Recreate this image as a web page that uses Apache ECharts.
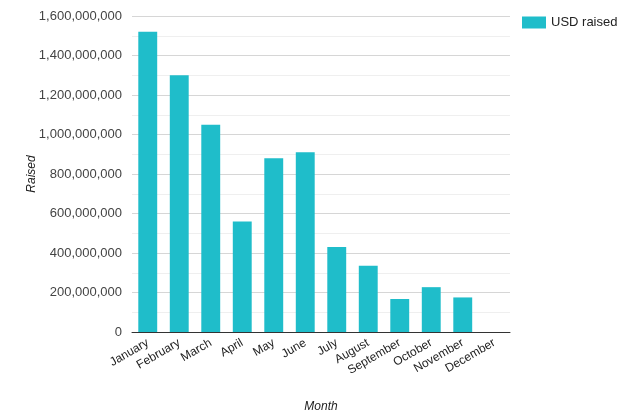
<!DOCTYPE html>
<html>
<head>
<meta charset="utf-8">
<script src="https://cdn.jsdelivr.net/npm/echarts@6/dist/echarts.min.js"></script>
<style>html,body{margin:0;padding:0;background:#fff;}#c{width:626px;height:413px;}</style>
</head>
<body>
<div id="c"></div>
<script>
const months = ['January','February','March','April','May','June','July','August','September','October','November','December'];
const usdRaised = [1520000000,1300000000,1050000000,560000000,880000000,910000000,430000000,335000000,167000000,227000000,175000000,0];
const seriesName = 'USD raised';
const yAxisName = 'Raised';
const xAxisName = 'Month';

const chart = echarts.init(document.getElementById('c'));
chart.setOption({
  animation: false,
  textStyle: { fontFamily: 'Liberation Sans, Arial, sans-serif' },
  grid: { left: 132, right: 116, top: 16, bottom: 81, containLabel: false, outerBoundsMode: 'none' },
  legend: {
    left: 517, top: 11, orient: 'vertical',
    icon: 'rect',
    itemWidth: 24, itemHeight: 12, itemGap: 8,
    textStyle: { fontSize: 13, color: '#222' },
    data: [seriesName]
  },
  xAxis: {
    type: 'category',
    data: months,
    name: xAxisName,
    nameLocation: 'middle',
    nameGap: 69,
    nameMoveOverlap: false,
    nameTextStyle: { fontStyle: 'italic', fontSize: 12, color: '#222' },
    axisLine: { lineStyle: { color: '#333', width: 1 } },
    axisTick: { show: false },
    axisLabel: { rotate: 30, fontSize: 12, color: '#222', margin: 10, interval: 0 }
  },
  yAxis: {
    type: 'value',
    min: 0, max: 1600000000, interval: 200000000,
    name: yAxisName,
    nameLocation: 'middle',
    nameGap: 94,
    nameMoveOverlap: false,
    nameTextStyle: { fontStyle: 'italic', fontSize: 12, color: '#222' },
    axisLine: { show: false },
    axisTick: { show: false },
    axisLabel: {
      fontSize: 13, color: '#444', margin: 10,
      formatter: v => v.toLocaleString('en-US')
    },
    splitLine: { lineStyle: { color: '#d6d6d6', width: 1 } },
    minorTick: { show: false, splitNumber: 2 },
    minorSplitLine: { show: true, lineStyle: { color: '#efefef', width: 1 } }
  },
  series: [{
    name: seriesName,
    type: 'bar',
    data: usdRaised,
    barCategoryGap: '40%',
    itemStyle: { color: '#1FBDCA' }
  }]
});
</script>
</body>
</html>
